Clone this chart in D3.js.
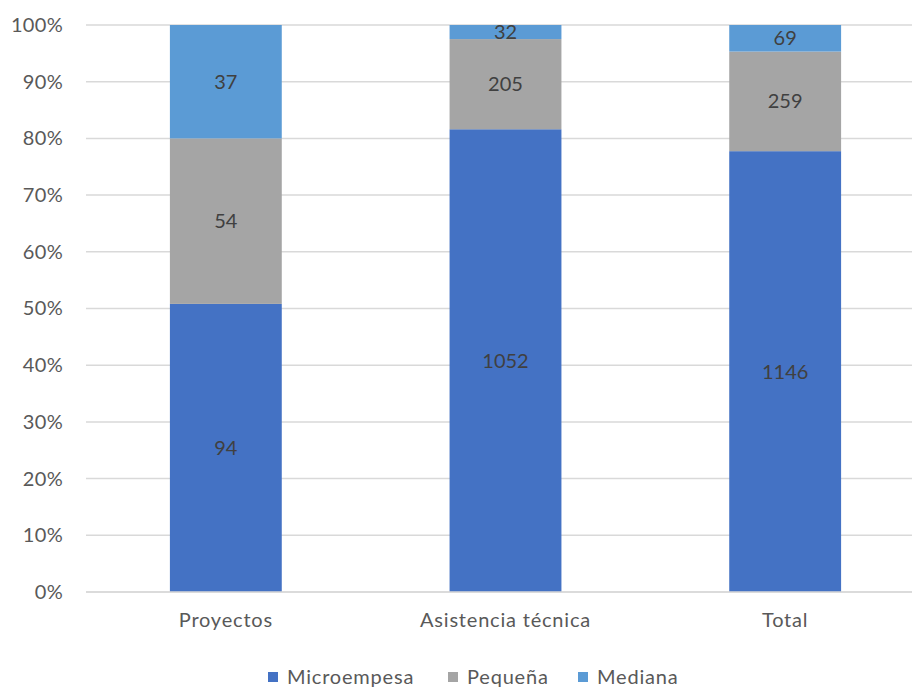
<!DOCTYPE html>
<html>
<head>
<meta charset="utf-8">
<script src="https://cdn.jsdelivr.net/npm/d3@7"></script>
<style>
  body { margin: 0; background: #fff; }
  svg text { font-family: Lato, "Open Sans", sans-serif; }
</style>
</head>
<body>
<svg id="chart" width="912" height="687"></svg>
<script>
// Chart data
const categories = ["Proyectos", "Asistencia técnica", "Total"];
const seriesNames = ["Microempesa", "Pequeña", "Mediana"];
const microValues = [94, 1052, 1146];
const pequenaValues = [54, 205, 259];
const medianaValues = [37, 32, 69];
const yTicks = [0, 0.1, 0.2, 0.3, 0.4, 0.5, 0.6, 0.7, 0.8, 0.9, 1];
const colors = ["#4472C4", "#A5A5A5", "#5B9BD5"];

const WIDTH = 912;
const HEIGHT = 687;
const LEFT = 86;   // plot left edge
const RIGHT = 925; // plot runs a little past the picture edge
const TOP = 25;
const BOTTOM = 592;
const FONT = "20px";

const svg = d3.select("#chart");

// Build a table of rows, one per category
const table = categories.map((c, i) => ({
  cat: c,
  [seriesNames[0]]: microValues[i],
  [seriesNames[1]]: pequenaValues[i],
  [seriesNames[2]]: medianaValues[i]
}));

const stacked = d3.stack()
  .keys(seriesNames)
  .offset(d3.stackOffsetExpand)(table);

const x = d3.scaleBand()
  .domain(categories)
  .range([LEFT, RIGHT])
  .paddingInner(0.6)
  .paddingOuter(0.3);

const y = d3.scaleLinear().domain([0, 1]).range([BOTTOM, TOP]);

// gridlines
svg.append("g")
  .selectAll("line")
  .data(yTicks)
  .join("line")
  .attr("x1", LEFT)
  .attr("x2", WIDTH)
  .attr("y1", d => y(d))
  .attr("y2", d => y(d))
  .attr("stroke", "#d9d9d9")
  .attr("stroke-width", 1.5);

// y axis
const yAxis = d3.axisLeft(y)
  .tickValues(yTicks)
  .tickSize(0)
  .tickPadding(0)
  .tickFormat(d3.format(".0%"));

svg.append("g")
  .attr("transform", `translate(63,0)`)
  .call(yAxis)
  .call(g => g.select(".domain").remove())
  .call(g => g.selectAll("text")
    .attr("fill", "#595959")
    .style("font-size", FONT)
    .style("letter-spacing", "0.3px"));

// bars
const layers = svg.append("g")
  .selectAll("g")
  .data(stacked)
  .join("g")
  .attr("fill", (d, i) => colors[i]);

layers.selectAll("rect")
  .data(d => d)
  .join("rect")
  .attr("x", d => x(d.data.cat))
  .attr("width", x.bandwidth())
  .attr("y", d => y(d[1]))
  .attr("height", d => y(d[0]) - y(d[1]));

// value labels
layers.selectAll("text")
  .data((d) => d.map(p => ({ p, key: d.key })))
  .join("text")
  .attr("x", d => x(d.p.data.cat) + x.bandwidth() / 2)
  .attr("y", d => (y(d.p[0]) + y(d.p[1])) / 2)
  .attr("text-anchor", "middle")
  .attr("dy", "0.35em")
  .attr("fill", "#404040")
  .style("font-size", FONT)
  .text(d => d.p.data[d.key]);

// baseline
svg.append("line")
  .attr("x1", LEFT).attr("x2", WIDTH)
  .attr("y1", BOTTOM).attr("y2", BOTTOM)
  .attr("stroke", "#d9d9d9")
  .attr("stroke-width", 1.5);

// x axis labels
const xAxis = d3.axisBottom(x).tickSize(0).tickPadding(0);
svg.append("g")
  .attr("transform", `translate(0,${BOTTOM + 21})`)
  .call(xAxis)
  .call(g => g.select(".domain").remove())
  .call(g => g.selectAll("text")
    .attr("fill", "#595959")
    .style("font-size", FONT)
    .style("letter-spacing", "0.8px"));

// legend
const legendX = [268, 448, 578];
const legend = svg.append("g")
  .selectAll("g")
  .data(seriesNames)
  .join("g")
  .attr("transform", (d, i) => `translate(${legendX[i]},677)`);

legend.append("rect")
  .attr("x", 0).attr("y", -5)
  .attr("width", 10).attr("height", 10)
  .attr("fill", (d, i) => colors[i]);

legend.append("text")
  .attr("x", 19)
  .attr("dy", "0.35em")
  .attr("fill", "#595959")
  .style("font-size", FONT)
  .style("letter-spacing", "0.8px")
  .text(d => d);
</script>
</body>
</html>
